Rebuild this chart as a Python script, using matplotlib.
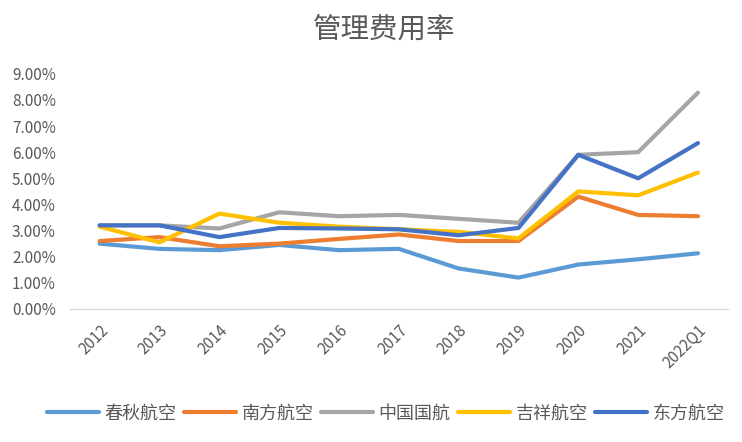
import matplotlib
matplotlib.use("Agg")
import matplotlib.pyplot as plt
from matplotlib.ticker import FuncFormatter

plt.rcParams['font.family'] = ['Noto Sans CJK SC', 'DejaVu Sans']

categories = ["2012", "2013", "2014", "2015", "2016", "2017", "2018", "2019", "2020", "2021", "2022Q1"]
series_names = ["春秋航空", "南方航空", "中国国航", "吉祥航空", "东方航空"]
chunqiu = [2.50, 2.30, 2.25, 2.45, 2.25, 2.30, 1.55, 1.20, 1.70, 1.90, 2.13]
nanfang = [2.60, 2.75, 2.40, 2.50, 2.68, 2.85, 2.60, 2.60, 4.30, 3.60, 3.55]
guohang = [3.20, 3.20, 3.08, 3.70, 3.55, 3.60, 3.45, 3.30, 5.90, 6.00, 8.28]
jixiang = [3.15, 2.55, 3.65, 3.30, 3.15, 3.05, 2.95, 2.70, 4.50, 4.35, 5.22]
dongfang = [3.20, 3.20, 2.75, 3.10, 3.08, 3.05, 2.82, 3.10, 5.90, 5.00, 6.35]
colors = ["#5B9BD5", "#ED7D31", "#A5A5A5", "#FFC000", "#4472C4"]

fig = plt.figure(figsize=(7.42, 4.42), dpi=100)
ax = fig.add_axes([0.094, 0.301, 0.887, 0.532])
x = list(range(len(categories)))
for vals, name, c in zip([chunqiu, nanfang, guohang, jixiang, dongfang], series_names, colors):
    ax.plot(x, vals, color=c, lw=3.0, label=name, solid_capstyle='round', solid_joinstyle='round')

ax.set_xlim(-0.5, len(categories) - 0.5)
ax.set_ylim(0, 9)
ax.set_yticks([i for i in range(10)])
ax.yaxis.set_major_formatter(FuncFormatter(lambda v, p: f"{v:.2f}%"))
ax.set_xticks(x)
ax.set_xticklabels(categories, rotation=45, ha='right', rotation_mode='anchor')
for s in ['top', 'right', 'left']:
    ax.spines[s].set_visible(False)
ax.spines['bottom'].set_color('#D9D9D9')
ax.spines['bottom'].set_linewidth(1)
ax.tick_params(axis='both', length=0, labelsize=11, colors='#595959')
ax.tick_params(axis='x', pad=9)
ax.tick_params(axis='y', pad=10)

fig.text(0.517, 0.932, "管理费用率", ha='center', va='center', fontsize=20.5,
         color='#595959', fontweight='light')
fig.legend(loc='center', bbox_to_anchor=(0.52, 0.064), ncol=5, frameon=False,
           fontsize=13, handlelength=2.9, handletextpad=0.3, columnspacing=0.4,
           labelcolor='#595959')

fig.savefig("out.png", dpi=100)
